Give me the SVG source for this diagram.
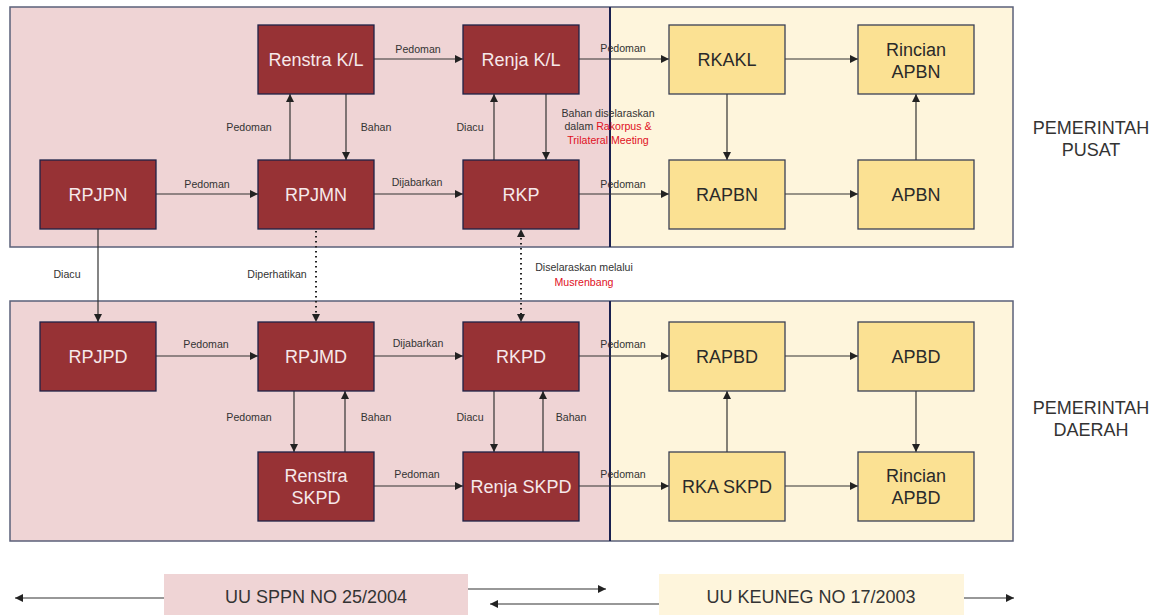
<svg xmlns="http://www.w3.org/2000/svg" width="1161" height="615" viewBox="0 0 1161 615">
  <style>
    .plan { fill: #efd4d5; }
    .budget { fill: #fef5dc; }
    .frame { fill: none; stroke: #5b6079; stroke-width: 1.5; }
    .divider { stroke: #1a2150; stroke-width: 2; }
    .red { fill: #973235; stroke: #1e2247; stroke-width: 1.3; }
    .yel { fill: #fbe193; stroke: #3a3f55; stroke-width: 1.3; }
    .nt { font-family: "Liberation Sans", Arial, sans-serif; font-size: 18px; text-anchor: middle; }
    .nt-red { fill: #f6e8ea; }
    .nt-yel { fill: #2a2a2a; }
    .lbl { font-family: "Liberation Sans", Arial, sans-serif; font-size: 10.6px; fill: #333; text-anchor: middle; }
    .hl { fill: #e0101e; }
    .side { font-family: "Liberation Sans", Arial, sans-serif; font-size: 18px; fill: #333; text-anchor: middle; }
    .law { font-family: "Liberation Sans", Arial, sans-serif; font-size: 18px; fill: #333; text-anchor: middle; }
    .link { fill: none; stroke: #333; stroke-width: 1.2; marker-end: url(#arrow); }
    .dot { fill: none; stroke: #222; stroke-width: 2; stroke-dasharray: 1.5 3.5; }
  </style>
  <defs>
    <marker id="arrow" markerUnits="userSpaceOnUse" markerWidth="9" markerHeight="8" refX="8" refY="4" orient="auto">
      <path d="M0,0 L8,4 L0,8 z" fill="#222"/>
    </marker>
  </defs>

  <!-- background panels -->
  <g id="panels">
    <rect class="plan" x="10" y="7" width="600" height="240"/>
    <rect class="budget" x="610" y="7" width="403" height="240"/>
    <rect class="frame" x="10" y="7" width="1003" height="240"/>
    <line class="divider" x1="610" y1="7" x2="610" y2="247"/>

    <rect class="plan" x="10" y="301" width="600" height="240"/>
    <rect class="budget" x="610" y="301" width="403" height="240"/>
    <rect class="frame" x="10" y="301" width="1003" height="240"/>
    <line class="divider" x1="610" y1="301" x2="610" y2="541"/>
  </g>

  <!-- connectors -->
  <g id="connectors">
    <!-- central government -->
    <line class="link" x1="156" y1="194" x2="258" y2="194"/>
    <line class="link" x1="374" y1="194" x2="463" y2="194"/>
    <line class="link" x1="290" y1="160" x2="290" y2="94"/>
    <line class="link" x1="346" y1="94" x2="346" y2="160"/>
    <line class="link" x1="374" y1="59" x2="463" y2="59"/>
    <line class="link" x1="494" y1="160" x2="494" y2="94"/>
    <line class="link" x1="546" y1="94" x2="546" y2="160"/>
    <line class="link" x1="579" y1="59" x2="669" y2="59"/>
    <line class="link" x1="579" y1="194" x2="669" y2="194"/>
    <line class="link" x1="785" y1="59" x2="858" y2="59"/>
    <line class="link" x1="727" y1="94" x2="727" y2="160"/>
    <line class="link" x1="785" y1="194" x2="858" y2="194"/>
    <line class="link" x1="916" y1="160" x2="916" y2="94"/>

    <!-- between levels -->
    <line class="link" x1="98" y1="229" x2="98" y2="322"/>
    <line class="dot" x1="316" y1="231" x2="316" y2="314"/>
    <path d="M312,314 L320,314 L316,322 z" fill="#222"/>
    <line class="dot" x1="521" y1="238" x2="521" y2="314"/>
    <path d="M517,314 L525,314 L521,322 z" fill="#222"/>
    <path d="M517,237 L525,237 L521,229 z" fill="#222"/>

    <!-- regional government -->
    <line class="link" x1="156" y1="356" x2="258" y2="356"/>
    <line class="link" x1="374" y1="356" x2="463" y2="356"/>
    <line class="link" x1="579" y1="356" x2="669" y2="356"/>
    <line class="link" x1="785" y1="356" x2="858" y2="356"/>
    <line class="link" x1="916" y1="391" x2="916" y2="452"/>
    <line class="link" x1="727" y1="452" x2="727" y2="391"/>
    <line class="link" x1="294" y1="391" x2="294" y2="452"/>
    <line class="link" x1="345" y1="452" x2="345" y2="391"/>
    <line class="link" x1="494" y1="391" x2="494" y2="452"/>
    <line class="link" x1="543" y1="452" x2="543" y2="391"/>
    <line class="link" x1="374" y1="486" x2="463" y2="486"/>
    <line class="link" x1="579" y1="486" x2="669" y2="486"/>
    <line class="link" x1="785" y1="486" x2="858" y2="486"/>

    <!-- legend arrows -->
    <line class="link" x1="164" y1="598" x2="15" y2="598"/>
    <line class="link" x1="468" y1="589" x2="606" y2="589"/>
    <line class="link" x1="659" y1="604" x2="490" y2="604"/>
    <line class="link" x1="964" y1="598" x2="1014" y2="598"/>
  </g>

  <!-- connector labels -->
  <g id="labels">
    <text class="lbl" x="207" y="188">Pedoman</text>
    <text class="lbl" x="417" y="186">Dijabarkan</text>
    <text class="lbl" x="418" y="53">Pedoman</text>
    <text class="lbl" x="249" y="131">Pedoman</text>
    <text class="lbl" x="376" y="131">Bahan</text>
    <text class="lbl" x="470" y="131">Diacu</text>
    <text class="lbl" x="608" y="117">Bahan diselaraskan</text>
    <text class="lbl" x="608" y="130">dalam <tspan class="hl">Rakorpus &amp;</tspan></text>
    <text class="lbl hl" x="608" y="144">Trilateral Meeting</text>
    <text class="lbl" x="623" y="52">Pedoman</text>
    <text class="lbl" x="623" y="188">Pedoman</text>

    <text class="lbl" x="67" y="278">Diacu</text>
    <text class="lbl" x="277" y="278">Diperhatikan</text>
    <text class="lbl" x="584" y="271">Diselaraskan melalui</text>
    <text class="lbl hl" x="584" y="286">Musrenbang</text>

    <text class="lbl" x="206" y="348">Pedoman</text>
    <text class="lbl" x="418" y="347">Dijabarkan</text>
    <text class="lbl" x="623" y="348">Pedoman</text>
    <text class="lbl" x="249" y="421">Pedoman</text>
    <text class="lbl" x="376" y="421">Bahan</text>
    <text class="lbl" x="470" y="421">Diacu</text>
    <text class="lbl" x="571" y="421">Bahan</text>
    <text class="lbl" x="417" y="478">Pedoman</text>
    <text class="lbl" x="623" y="478">Pedoman</text>
  </g>

  <!-- central government nodes -->
  <g id="rpjpn"><rect class="red" x="40" y="160" width="116" height="69"/><text class="nt nt-red" x="98" y="201">RPJPN</text></g>
  <g id="rpjmn"><rect class="red" x="258" y="160" width="116" height="69"/><text class="nt nt-red" x="316" y="201">RPJMN</text></g>
  <g id="rkp"><rect class="red" x="463" y="160" width="116" height="69"/><text class="nt nt-red" x="521" y="201">RKP</text></g>
  <g id="renstra-kl"><rect class="red" x="258" y="25" width="116" height="69"/><text class="nt nt-red" x="316" y="66">Renstra K/L</text></g>
  <g id="renja-kl"><rect class="red" x="463" y="25" width="116" height="69"/><text class="nt nt-red" x="521" y="66">Renja K/L</text></g>
  <g id="rkakl"><rect class="yel" x="669" y="25" width="116" height="69"/><text class="nt nt-yel" x="727" y="66">RKAKL</text></g>
  <g id="rincian-apbn"><rect class="yel" x="858" y="25" width="116" height="69"/><text class="nt nt-yel" x="916" y="56">Rincian</text><text class="nt nt-yel" x="916" y="78">APBN</text></g>
  <g id="rapbn"><rect class="yel" x="669" y="160" width="116" height="69"/><text class="nt nt-yel" x="727" y="201">RAPBN</text></g>
  <g id="apbn"><rect class="yel" x="858" y="160" width="116" height="69"/><text class="nt nt-yel" x="916" y="201">APBN</text></g>

  <!-- regional government nodes -->
  <g id="rpjpd"><rect class="red" x="40" y="322" width="116" height="69"/><text class="nt nt-red" x="98" y="363">RPJPD</text></g>
  <g id="rpjmd"><rect class="red" x="258" y="322" width="116" height="69"/><text class="nt nt-red" x="316" y="363">RPJMD</text></g>
  <g id="rkpd"><rect class="red" x="463" y="322" width="116" height="69"/><text class="nt nt-red" x="521" y="363">RKPD</text></g>
  <g id="renstra-skpd"><rect class="red" x="258" y="452" width="116" height="69"/><text class="nt nt-red" x="316" y="482">Renstra</text><text class="nt nt-red" x="316" y="504">SKPD</text></g>
  <g id="renja-skpd"><rect class="red" x="463" y="452" width="116" height="69"/><text class="nt nt-red" x="521" y="493">Renja SKPD</text></g>
  <g id="rapbd"><rect class="yel" x="669" y="322" width="116" height="69"/><text class="nt nt-yel" x="727" y="363">RAPBD</text></g>
  <g id="apbd"><rect class="yel" x="858" y="322" width="116" height="69"/><text class="nt nt-yel" x="916" y="363">APBD</text></g>
  <g id="rka-skpd"><rect class="yel" x="669" y="452" width="116" height="69"/><text class="nt nt-yel" x="727" y="493">RKA SKPD</text></g>
  <g id="rincian-apbd"><rect class="yel" x="858" y="452" width="116" height="69"/><text class="nt nt-yel" x="916" y="482">Rincian</text><text class="nt nt-yel" x="916" y="504">APBD</text></g>

  <!-- level captions -->
  <g id="caption-pusat"><text class="side" x="1091" y="134">PEMERINTAH</text><text class="side" x="1091" y="156">PUSAT</text></g>
  <g id="caption-daerah"><text class="side" x="1091" y="414">PEMERINTAH</text><text class="side" x="1091" y="436">DAERAH</text></g>

  <!-- legal basis legend -->
  <g id="law-sppn"><rect class="plan" x="164" y="574" width="304" height="45"/><text class="law" x="316" y="603">UU SPPN NO 25/2004</text></g>
  <g id="law-keuneg"><rect class="budget" x="659" y="574" width="305" height="45"/><text class="law" x="811" y="603">UU KEUNEG NO 17/2003</text></g>
</svg>
